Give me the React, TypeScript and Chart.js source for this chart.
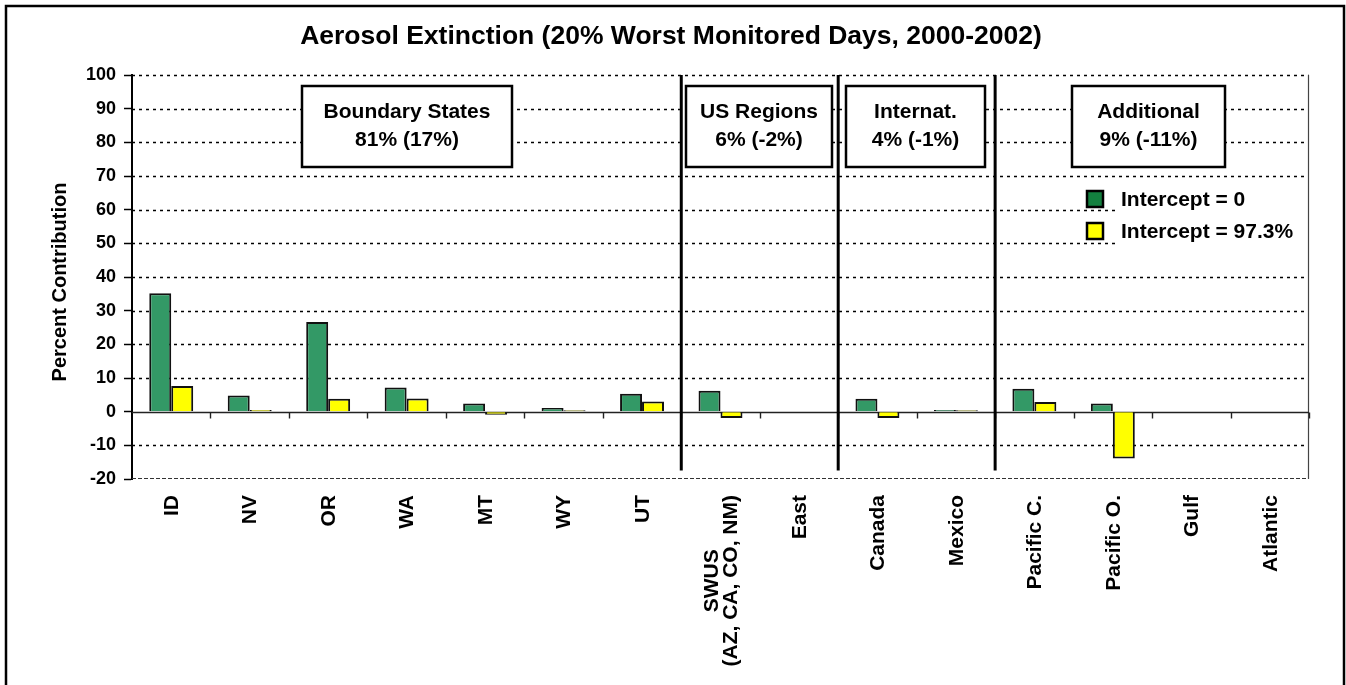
import React, { useEffect, useRef } from 'react';
import { Chart, registerables } from 'chart.js';

Chart.register(...registerables);

const FONT = '"Liberation Sans", Arial, Helvetica, sans-serif';

// ---------- data ----------
const categories: (string | string[])[] = [
  'ID', 'NV', 'OR', 'WA', 'MT', 'WY', 'UT',
  ['SWUS', '(AZ, CA, CO, NM)'], 'East',
  'Canada', 'Mexico',
  'Pacific C.', 'Pacific O.', 'Gulf', 'Atlantic',
];
const seriesNames = ['Intercept = 0', 'Intercept = 97.3%'];
const interceptZero = [35.2, 4.8, 26.6, 7.2, 2.4, 1.1, 5.3, 6.2, 0, 3.8, 0.5, 6.8, 2.4, 0, 0];
const interceptFull = [7.6, 0.5, 3.8, 3.9, -0.9, 0.4, 3.0, -1.9, 0, -1.9, 0.4, 2.9, -13.9, 0, 0];
const yMin = -20;
const yMax = 100;
const yStep = 10;
const chartTitle = 'Aerosol Extinction (20% Worst Monitored Days, 2000-2002)';
const yAxisTitle = 'Percent Contribution';
const groupTitles = ['Boundary States', 'US Regions', 'Internat.', 'Additional'];
const groupShares = ['81% (17%)', '6% (-2%)', '4% (-1%)', '9% (-11%)'];
const groupLastIndex = [6, 8, 10]; // separators after these categories

const GREEN = '#339966';
const YELLOW = '#FFFF00';

const overlay = {
  id: 'overlay',
  beforeDatasetsDraw(chart: any) {
    const { ctx, chartArea: a, scales } = chart;
    const y = scales.y;
    const x = scales.x;
    ctx.save();
    // dashed grid lines
    ctx.strokeStyle = '#000';
    ctx.lineWidth = 1.6;
    ctx.setLineDash([3, 4]);
    for (let v = yMin + yStep; v <= yMax; v += yStep) {
      if (v === 0) continue;
      const py = Math.round(y.getPixelForValue(v)) + 0.5;
      ctx.beginPath();
      ctx.moveTo(a.left, py);
      ctx.lineTo(a.right, py);
      ctx.stroke();
    }
    // bottom border (dense dash)
    ctx.lineWidth = 1.2;
    ctx.strokeStyle = '#333';
    ctx.setLineDash([4, 2]);
    const pb = Math.round(y.getPixelForValue(yMin)) - 0.5;
    ctx.beginPath();
    ctx.moveTo(a.left, pb);
    ctx.lineTo(a.right, pb);
    ctx.stroke();
    // right border
    ctx.setLineDash([]);
    ctx.strokeStyle = '#444';
    ctx.beginPath();
    ctx.moveTo(a.right - 0.5, a.top);
    ctx.lineTo(a.right - 0.5, a.bottom);
    ctx.stroke();
    // zero line with category ticks
    const p0 = Math.round(y.getPixelForValue(0)) + 0.5;
    ctx.strokeStyle = '#222';
    ctx.lineWidth = 1.4;
    ctx.beginPath();
    ctx.moveTo(a.left, p0);
    ctx.lineTo(a.right, p0);
    ctx.stroke();
    const n = categories.length;
    for (let i = 1; i <= n; i++) {
      const px = i < n
        ? (x.getPixelForValue(i - 1) + x.getPixelForValue(i)) / 2
        : a.right;
      ctx.beginPath();
      ctx.moveTo(Math.round(px) + 0.5, p0);
      ctx.lineTo(Math.round(px) + 0.5, p0 + 6);
      ctx.stroke();
    }
    ctx.restore();
  },
  afterDatasetsDraw(chart: any) {
    const { ctx, chartArea: a, scales } = chart;
    const x = scales.x;
    const y = scales.y;
    ctx.save();

    // group separators
    ctx.strokeStyle = '#000';
    ctx.lineWidth = 3;
    const sepBottom = y.getPixelForValue(-17.5);
    for (const i of groupLastIndex) {
      const px = (x.getPixelForValue(i) + x.getPixelForValue(i + 1)) / 2;
      ctx.beginPath();
      ctx.moveTo(px, a.top);
      ctx.lineTo(px, sepBottom);
      ctx.stroke();
    }

    // group boxes
    const boxes = [
      [302, 512],
      [686, 832],
      [846, 985],
      [1072, 1225],
    ];
    const boxTop = 86;
    const boxBottom = 167;
    ctx.font = `bold 21px ${FONT}`;
    ctx.textAlign = 'center';
    ctx.textBaseline = 'middle';
    boxes.forEach(([l, r], k) => {
      ctx.fillStyle = '#fff';
      ctx.fillRect(l, boxTop, r - l, boxBottom - boxTop);
      ctx.strokeStyle = '#000';
      ctx.lineWidth = 2.5;
      ctx.strokeRect(l, boxTop, r - l, boxBottom - boxTop);
      ctx.fillStyle = '#000';
      const cx = (l + r) / 2;
      ctx.fillText(groupTitles[k], cx, 112);
      ctx.fillText(groupShares[k], cx, 140);
    });

    // legend
    ctx.fillStyle = '#fff';
    ctx.fillRect(1115, 181, 190, 69);
    const keyColors = ['#13803f', YELLOW];
    const rowY = [199, 231];
    seriesNames.forEach((name, k) => {
      ctx.fillStyle = keyColors[k];
      ctx.fillRect(1087, rowY[k] - 8, 16, 16);
      ctx.strokeStyle = '#000';
      ctx.lineWidth = 2.5;
      ctx.strokeRect(1087, rowY[k] - 8, 16, 16);
      ctx.fillStyle = '#000';
      ctx.textAlign = 'left';
      ctx.textBaseline = 'middle';
      ctx.font = `bold 21px ${FONT}`;
      ctx.fillText(name, 1121, rowY[k] + 1);
    });

    // category labels (rotated)
    ctx.font = `bold 21px ${FONT}`;
    ctx.fillStyle = '#000';
    const lh = 19;
    categories.forEach((lab, i) => {
      const lines = Array.isArray(lab) ? lab : [lab];
      const cx = x.getPixelForValue(i);
      const maxW = Math.max(...lines.map((s) => ctx.measureText(s).width));
      ctx.save();
      ctx.translate(cx, 495);
      ctx.rotate(-Math.PI / 2);
      ctx.textAlign = 'center';
      ctx.textBaseline = 'middle';
      lines.forEach((s, j) => {
        const off = (j - (lines.length - 1) / 2) * lh;
        ctx.fillText(s, -maxW / 2, off + 1);
      });
      ctx.restore();
    });

    // y axis title
    ctx.save();
    ctx.translate(60, 282);
    ctx.rotate(-Math.PI / 2);
    ctx.textAlign = 'center';
    ctx.textBaseline = 'middle';
    ctx.font = `bold 20px ${FONT}`;
    ctx.fillText(yAxisTitle, 0, 0);
    ctx.restore();

    // chart title
    ctx.font = `bold 26.5px ${FONT}`;
    ctx.textAlign = 'center';
    ctx.textBaseline = 'middle';
    ctx.fillText(chartTitle, 671, 37);

    // outer frame
    ctx.strokeStyle = '#000';
    ctx.lineWidth = 2.5;
    ctx.strokeRect(6, 6, 1338, 760);

    ctx.restore();
  },
};

export default function App() {
  const ref = useRef<HTMLCanvasElement | null>(null);
  useEffect(() => {
    if (!ref.current) return;
    Chart.defaults.font.family = FONT;
    const chart = new Chart(ref.current, {
      type: 'bar',
      data: {
        labels: categories as any,
        datasets: [
          {
            label: seriesNames[0],
            data: interceptZero,
            backgroundColor: GREEN,
            borderColor: '#111',
            borderWidth: 2,
            categoryPercentage: 0.56,
            barPercentage: 1,
          },
          {
            label: seriesNames[1],
            data: interceptFull,
            backgroundColor: YELLOW,
            borderColor: '#111',
            borderWidth: 2,
            categoryPercentage: 0.56,
            barPercentage: 1,
          },
        ],
      },
      options: {
        responsive: false,
        animation: false,
        devicePixelRatio: 1,
        layout: { padding: { left: 0, right: 37, top: 75, bottom: 0 } },
        plugins: {
          legend: { display: false },
          title: { display: false },
          tooltip: { enabled: false },
        },
        scales: {
          x: {
            ticks: { display: false },
            grid: { display: false },
            border: { display: false },
            afterFit: (s: any) => {
              s.height = 206;
            },
          },
          y: {
            min: yMin,
            max: yMax,
            ticks: {
              stepSize: yStep,
              color: '#000',
              padding: 8,
              font: { size: 18, weight: 'bold', family: FONT },
            },
            grid: {
              drawOnChartArea: false,
              drawTicks: true,
              tickLength: 8,
              tickColor: '#000',
              tickWidth: 1.5,
            },
            border: { display: true, color: '#000', width: 2 },
            afterFit: (s: any) => {
              s.width = 132;
            },
          },
        },
      } as any,
      plugins: [overlay],
    });
    return () => chart.destroy();
  }, []);
  return (
    <div style={{ position: 'fixed', left: 0, top: 0, width: 1346, height: 685, background: '#fff' }}>
      <canvas ref={ref} width={1346} height={685} style={{ display: 'block' }} />
    </div>
  );
}
